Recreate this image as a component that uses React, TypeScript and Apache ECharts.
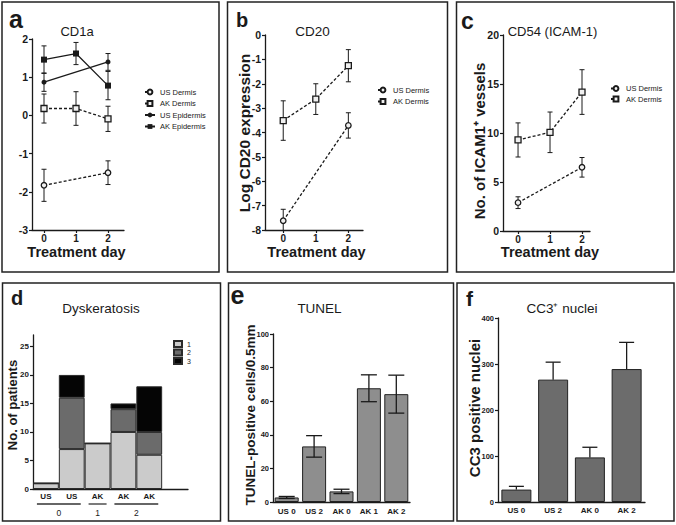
import React, { useEffect, useRef } from "react";
import * as echarts from "echarts";

// ---------- data ----------
const dayTicks = [0, 1, 2];

// Panel a: CD1a  [day, mean, sem]
const cd1aUSDermis = [[0, -1.83, 0.42], [2, -1.5, 0.31]];
const cd1aAKDermis = [[0, 0.18, 0.38], [1, 0.18, 0.44], [2, -0.09, 0.33]];
const cd1aUSEpidermis = [[0, 0.87, 0.24], [2, 1.4, 0.22]];
const cd1aAKEpidermis = [[0, 1.46, 0.36], [1, 1.62, 0.29], [2, 0.78, 0.37]];

// Panel b: CD20 (log expression)
const cd20USDermis = [[0, -7.62, 0.47], [2, -3.71, 0.52]];
const cd20AKDermis = [[0, -3.51, 0.81], [1, -2.63, 0.63], [2, -1.26, 0.66]];

// Panel c: CD54 (ICAM-1)
const icamUSDermis = [[0, 2.89, 0.6], [2, 6.5, 1.0]];
const icamAKDermis = [[0, 9.29, 1.74], [1, 10.07, 2.07], [2, 14.18, 2.28]];

// Panel d: Dyskeratosis grades
const dysCategories = ["US", "US", "AK", "AK", "AK"];
const dysDayLabels = ["0", "1", "2"];
const dysDayOfBar = [0, 0, 1, 2, 2];
const dysGrade1 = [1, 7, 8, 10, 6];
const dysGrade2 = [0, 9, 0, 4, 4];
const dysGrade3 = [0, 4, 0, 1, 8];
const dysYTicks = [0, 5, 10, 15, 20, 25];

// Panel e: TUNEL
const tunelCategories = ["US 0", "US 2", "AK 0", "AK 1", "AK 2"];
const tunelMean = [2.7, 33.1, 6.3, 67.7, 64.2];
const tunelSem = [0.6, 6.4, 1.3, 8.0, 11.3];

// Panel f: CC3+ nuclei
const cc3Categories = ["US 0", "US 2", "AK 0", "AK 2"];
const cc3Mean = [27, 266, 97, 289];
const cc3Sem = [7, 38, 22, 58];

// ---------- styling helpers ----------
const FONT = 'Arial, "Liberation Sans", Helvetica, sans-serif';
const INK = "#1a1a1a";

function lineXAxis(gridIndex: number, min: number, max: number) {
  return {
    type: "value",
    gridIndex,
    min,
    max,
    axisLine: { show: true, onZero: false, lineStyle: { color: INK, width: 1.3 } },
    axisTick: { show: true, length: 3, customValues: dayTicks, lineStyle: { color: INK, width: 1.2 } },
    axisLabel: { customValues: dayTicks, margin: 3, fontSize: 10, fontWeight: "bold", color: INK, fontFamily: FONT },
    splitLine: { show: false },
  };
}

function valueYAxis(gridIndex: number, min: number, max: number, interval: number | null, fontSize: number, custom?: number[]) {
  const ax: any = {
    type: "value",
    gridIndex,
    min,
    max,
    axisLine: { show: true, onZero: false, lineStyle: { color: INK, width: 1.3 } },
    axisTick: { show: true, length: 3, lineStyle: { color: INK, width: 1.2 } },
    axisLabel: { margin: 4, fontSize, fontWeight: "bold", color: INK, fontFamily: FONT },
    splitLine: { show: false },
  };
  if (interval != null) ax.interval = interval;
  if (custom) {
    ax.axisTick.customValues = custom;
    ax.axisLabel.customValues = custom;
  }
  return ax;
}

function catXAxis(gridIndex: number, data: string[], fontSize: number, margin: number, formatter?: any) {
  return {
    type: "category",
    gridIndex,
    data,
    axisLine: { show: true, onZero: false, lineStyle: { color: INK, width: 1.3 } },
    axisTick: { show: false },
    axisLabel: { interval: 0, margin, fontSize, fontWeight: "bold", color: INK, fontFamily: FONT, formatter },
    splitLine: { show: false },
  };
}

function errRender(cap: number, width: number, upOnly: boolean) {
  return (params: any, api: any) => {
    const x = api.value(0);
    const lo = api.value(1);
    const hi = api.value(2);
    const top = api.coord([x, hi]);
    const bot = api.coord([x, lo]);
    const style = { stroke: INK, lineWidth: width, fill: null };
    const children: any[] = [
      { type: "line", shape: { x1: top[0], y1: top[1], x2: bot[0], y2: bot[1] }, style },
      { type: "line", shape: { x1: top[0] - cap, y1: top[1], x2: top[0] + cap, y2: top[1] }, style },
    ];
    if (!upOnly) {
      children.push({ type: "line", shape: { x1: bot[0] - cap, y1: bot[1], x2: bot[0] + cap, y2: bot[1] }, style });
    }
    return { type: "group", children };
  };
}

function errSeries(id: string, axis: number, data: number[][], cap: number, width: number, upOnly = false, z = 1) {
  return {
    type: "custom",
    name: id,
    xAxisIndex: axis,
    yAxisIndex: axis,
    data,
    encode: { x: 0, y: [1, 2] },
    renderItem: errRender(cap, width, upOnly),
    clip: true,
    silent: true,
    z,
  };
}

function lineErr(d: number[][]) {
  return d.map((r) => [r[0], r[1] - r[2], r[1] + r[2]]);
}

function lineSeries(name: string, axis: number, d: number[][], symbol: string, filled: boolean, dashed: boolean) {
  return {
    type: "line",
    name,
    xAxisIndex: axis,
    yAxisIndex: axis,
    data: d.map((r) => [r[0], r[1]]),
    symbol,
    symbolSize: symbol === "rect" ? 6 : filled ? 5 : 5.5,
    showSymbol: true,
    itemStyle: { color: filled ? INK : "#f0f0f0", borderColor: INK, borderWidth: filled ? 0 : 1.3 },
    lineStyle: { color: INK, width: 1.3, type: dashed ? [3, 2] : "solid" },
    z: 3,
  };
}

const legendText = { fontSize: 7.5, color: INK, fontFamily: FONT };

function buildOption() {
  return {
    animation: false,
    backgroundColor: "#ffffff",
    textStyle: { fontFamily: FONT },
    grid: [
      { left: 32, top: 39, width: 92, height: 191 },
      { left: 265, top: 35, width: 98, height: 195 },
      { left: 503, top: 35, width: 87, height: 196 },
      { left: 33, top: 335, width: 155, height: 154 },
      { left: 273, top: 334, width: 137, height: 168 },
      { left: 498, top: 318, width: 147, height: 184 },
    ],
    xAxis: [
      lineXAxis(0, -0.375, 2.5),
      lineXAxis(1, -0.56, 2.45),
      lineXAxis(2, -0.47, 2.25),
      catXAxis(3, [...dysCategories.map((_, i) => String(i)), "5"], 8, 3, (v: string, i: number) => dysCategories[i] ?? ""),
      catXAxis(4, tunelCategories, 8, 5),
      catXAxis(5, cc3Categories, 8, 4),
    ],
    yAxis: [
      valueYAxis(0, -3, 2, 1, 10.5),
      valueYAxis(1, -8, 0, 1, 10.5),
      valueYAxis(2, 0, 20, 5, 10.5),
      valueYAxis(3, 0, 27, null, 8, dysYTicks),
      valueYAxis(4, 0, 100, 20, 7.5),
      valueYAxis(5, 0, 400, 100, 7.5),
    ],
    legend: [
      {
        data: ["US Dermis", "AK Dermis", "US Epidermis", "AK Epidermis"],
        left: 144, top: 88, orient: "vertical", itemWidth: 10, itemHeight: 6, itemGap: 3.5,
        textStyle: legendText, selectedMode: false, padding: 0,
      },
      {
        data: ["US Dermis", "AK Dermis"],
        left: 377, top: 86, orient: "vertical", itemWidth: 10, itemHeight: 6, itemGap: 3.5,
        textStyle: legendText, selectedMode: false, padding: 0,
      },
      {
        data: ["US Dermis", "AK Dermis"],
        left: 610, top: 84.5, orient: "vertical", itemWidth: 10, itemHeight: 6, itemGap: 2.5,
        textStyle: legendText, selectedMode: false, padding: 0,
      },
      {
        data: ["1", "2", "3"],
        left: 173, top: 340, orient: "vertical", itemWidth: 8, itemHeight: 6, itemGap: 0.5, icon: "rect",
        textStyle: { fontSize: 7, lineHeight: 6, color: INK, fontFamily: FONT }, selectedMode: false, padding: 0,
      },
    ],
    series: [
      // panel a
      errSeries("err-a1", 0, lineErr(cd1aUSDermis), 2.5, 1),
      errSeries("err-a2", 0, lineErr(cd1aAKDermis), 2.5, 1),
      errSeries("err-a3", 0, lineErr(cd1aUSEpidermis), 2.5, 1),
      errSeries("err-a4", 0, lineErr(cd1aAKEpidermis), 2.5, 1),
      lineSeries("US Dermis", 0, cd1aUSDermis, "circle", false, true),
      lineSeries("AK Dermis", 0, cd1aAKDermis, "rect", false, true),
      lineSeries("US Epidermis", 0, cd1aUSEpidermis, "circle", true, false),
      lineSeries("AK Epidermis", 0, cd1aAKEpidermis, "rect", true, false),
      // panel b
      errSeries("err-b1", 1, lineErr(cd20USDermis), 2.5, 1),
      errSeries("err-b2", 1, lineErr(cd20AKDermis), 2.5, 1),
      lineSeries("US Dermis", 1, cd20USDermis, "circle", false, true),
      lineSeries("AK Dermis", 1, cd20AKDermis, "rect", false, true),
      // panel c
      errSeries("err-c1", 2, lineErr(icamUSDermis), 2.5, 1),
      errSeries("err-c2", 2, lineErr(icamAKDermis), 2.5, 1),
      lineSeries("US Dermis", 2, icamUSDermis, "circle", false, true),
      lineSeries("AK Dermis", 2, icamAKDermis, "rect", false, true),
      // panel d
      ...[
        { name: "1", data: dysGrade1, color: "#cbcbcb" },
        { name: "2", data: dysGrade2, color: "#6b6b6b" },
        { name: "3", data: dysGrade3, color: "#050505" },
      ].map((s) => ({
        type: "bar",
        name: s.name,
        xAxisIndex: 3,
        yAxisIndex: 3,
        stack: "dys",
        data: s.data,
        barCategoryGap: "0%",
        itemStyle: { color: s.color, borderColor: "#2a2a2a", borderWidth: 1 },
      })),
      // panel e
      {
        type: "bar",
        name: "TUNEL",
        xAxisIndex: 4,
        yAxisIndex: 4,
        data: tunelMean,
        barWidth: 24,
        itemStyle: { color: "#8e8e8e", borderColor: "#222", borderWidth: 1 },
      },
      errSeries("err-e", 4, tunelMean.map((m, i) => [i, m - tunelSem[i], m + tunelSem[i]]), 8, 1.3, false, 5),
      // panel f
      {
        type: "bar",
        name: "CC3",
        xAxisIndex: 5,
        yAxisIndex: 5,
        data: cc3Mean,
        barWidth: 30,
        itemStyle: { color: "#6c6c6c", borderColor: "#222", borderWidth: 1 },
      },
      errSeries("err-f", 5, cc3Mean.map((m, i) => [i, m, m + cc3Sem[i]]), 7.5, 1.3, true, 5),
    ],
  };
}

function txt(text: string, x: number, y: number, font: string, align = "center", rotation = 0) {
  return {
    type: "text",
    x,
    y,
    rotation,
    silent: true,
    style: {
      text,
      font,
      fill: INK,
      align,
      textAlign: align,
      verticalAlign: "middle",
      textVerticalAlign: "middle",
    },
  };
}

function buildGraphic(chart: any) {
  const g: any[] = [];
  const panels = [
    [2, 2, 217, 270],
    [227.5, 2, 220, 270],
    [456.5, 2, 217.5, 270],
    [2.5, 283, 218, 238],
    [228.5, 283, 225, 238],
    [457, 283, 217, 238],
  ];
  panels.forEach(([x, y, w, h]) =>
    g.push({ type: "rect", shape: { x, y, width: w, height: h }, style: { fill: "none", stroke: "#222", lineWidth: 1.5 }, silent: true })
  );
  // panel letters
  g.push(txt("a", 9, 18.5, `bold 25px ${FONT}`, "left"));
  g.push(txt("b", 236, 20, `bold 20px ${FONT}`, "left"));
  g.push(txt("c", 461, 21, `bold 23px ${FONT}`, "left"));
  g.push(txt("d", 11, 298, `bold 20px ${FONT}`, "left"));
  g.push(txt("e", 230.5, 295, `bold 25px ${FONT}`, "left"));
  g.push(txt("f", 466, 298, `bold 21px ${FONT}`, "left"));
  // titles
  g.push(txt("CD1a", 77, 31, `13px ${FONT}`));
  g.push(txt("CD20", 312.5, 31, `13.5px ${FONT}`));
  g.push(txt("CD54 (ICAM-1)", 552.5, 31, `13px ${FONT}`));
  g.push(txt("Dyskeratosis", 101, 308, `13.5px ${FONT}`));
  g.push(txt("TUNEL", 319.5, 308, `13.5px ${FONT}`));
  g.push(txt("CC3\u207A nuclei", 562, 308, `13.5px ${FONT}`));
  // x axis names
  g.push(txt("Treatment day", 76.5, 252, `bold 14.5px ${FONT}`));
  g.push(txt("Treatment day", 316.5, 252, `bold 14.5px ${FONT}`));
  g.push(txt("Treatment day", 550, 252, `bold 14.5px ${FONT}`));
  // y axis names
  const r = Math.PI / 2;
  g.push(txt("Log CD20 expression", 244, 133, `bold 15.5px ${FONT}`, "center", r));
  g.push(txt("No. of ICAM1\u207A vessels", 479, 141, `bold 15px ${FONT}`, "center", r));
  g.push(txt("No. of patients", 12, 405, `bold 13px ${FONT}`, "center", r));
  g.push(txt("TUNEL-positive cells/0.5mm", 250, 415, `bold 13.5px ${FONT}`, "center", r));
  g.push(txt("CC3 positive nuclei", 474, 408, `bold 15px ${FONT}`, "center", r));

  // panel d: treatment-day group underlines and labels
  dysDayLabels.forEach((lab, gi) => {
    const idx = dysDayOfBar.map((d, i) => (d === gi ? i : -1)).filter((i) => i >= 0);
    const xs = idx.map((i) => chart.convertToPixel({ xAxisIndex: 3 }, i) as number);
    const x1 = Math.min(...xs) - 9;
    const x2 = Math.max(...xs) + 9;
    g.push({ type: "line", shape: { x1, y1: 504, x2, y2: 504 }, style: { stroke: "#333", lineWidth: 1.3 }, silent: true });
    g.push(txt(lab, (x1 + x2) / 2, 512.5, `8.5px ${FONT}`));
  });
  return g;
}

export default function App() {
  const ref = useRef<HTMLDivElement>(null);
  useEffect(() => {
    const chart = echarts.init(ref.current!, null, { renderer: "svg" });
    chart.setOption(buildOption() as any);
    chart.setOption({ graphic: buildGraphic(chart) } as any);
    return () => chart.dispose();
  }, []);
  return (
    <div
      ref={ref}
      style={{ position: "absolute", left: 0, top: 0, width: 676, height: 525, background: "#fff" }}
    />
  );
}
